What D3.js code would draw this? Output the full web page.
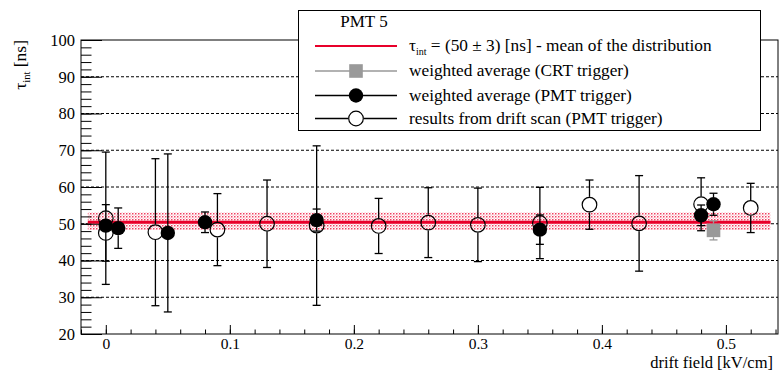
<!DOCTYPE html>
<html>
<head>
<meta charset="utf-8">
<script src="https://cdn.jsdelivr.net/npm/d3@7"></script>
<style>
  body { margin: 0; background: #fff; }
  svg text { font-family: 'Liberation Serif', 'Times New Roman', Times, serif; }
</style>
</head>
<body>
<svg id="chart" width="780" height="372"></svg>
<script>
// results from drift scan (PMT trigger) - open circles
var scanX = [0, 0, 0.04, 0.09, 0.13, 0.17, 0.22, 0.26, 0.30, 0.35, 0.39, 0.43, 0.48, 0.52];
var scanY = [51.5, 47.5, 47.7, 48.4, 50.0, 49.5, 49.4, 50.3, 49.7, 50.2, 55.2, 50.1, 55.3, 54.3];
var scanErr = [18, 7.7, 20, 9.8, 11.9, 21.7, 7.5, 9.5, 10, 9.7, 6.7, 13, 7.2, 6.7];

// weighted average (PMT trigger) - filled circles
var pmtX = [0, 0.01, 0.05, 0.08, 0.17, 0.35, 0.48, 0.49];
var pmtY = [49.5, 48.8, 47.5, 50.4, 51.0, 48.4, 52.3, 55.3];
var pmtErr = [1.5, 5.5, 21.5, 2.8, 3.0, 4.0, 2.8, 3.0];

// weighted average (CRT trigger) - grey square
var crtX = [0.49];
var crtY = [48.2];
var crtErr = [2.6];

// mean of the distribution
var meanVal = 50.4;
var bandLo = 48.3;
var bandHi = 53.1;
var meanRange = [-0.0145, 0.536];

var yMajor = [20, 30, 40, 50, 60, 70, 80, 90, 100];
var xMajor = [0, 0.1, 0.2, 0.3, 0.4, 0.5];

var svg = d3.select('#chart');
var borders = { left: 81, right: 2, top: 40, bottom: 38 };
var svgWidth = 780;
var svgHeight = 372;
var redCol = '#e8002a';
var serif = "'Liberation Serif', 'Times New Roman', Times, serif";

var xScale = d3.scaleLinear()
  .domain([-0.02, 0.542])
  .range([borders.left, svgWidth - borders.right]);

var yScale = d3.scaleLinear()
  .domain([20, 100])
  .range([svgHeight - borders.bottom, borders.top]);

var x0 = xScale.range()[0], x1 = xScale.range()[1];
var y0 = yScale.range()[0], y1 = yScale.range()[1];

// hatch pattern for band
var defs = svg.append('defs');
var pat = defs.append('pattern')
  .attr('id', 'dots')
  .attr('patternUnits', 'userSpaceOnUse')
  .attr('width', 3)
  .attr('height', 3);
pat.append('rect').attr('width', 3).attr('height', 3).attr('fill', '#fff');
pat.append('rect').attr('x', 0).attr('y', 0).attr('width', 1.5).attr('height', 1.5).attr('fill', '#f04060');
pat.append('rect').attr('x', 1.5).attr('y', 1.5).attr('width', 1.5).attr('height', 1.5).attr('fill', '#fbc8d2');

// grid
svg.append('g')
  .selectAll('line')
  .data(yMajor.filter(function (d) { return d > 20 && d < 100; }))
  .enter()
  .append('line')
  .attr('x1', x0)
  .attr('x2', x1)
  .attr('y1', function (d) { return yScale(d); })
  .attr('y2', function (d) { return yScale(d); })
  .attr('stroke', '#000')
  .attr('stroke-width', 1)
  .attr('stroke-dasharray', '3,2');

// band + mean line
svg.append('rect')
  .attr('x', xScale(meanRange[0]))
  .attr('width', xScale(meanRange[1]) - xScale(meanRange[0]))
  .attr('y', yScale(bandHi))
  .attr('height', yScale(bandLo) - yScale(bandHi))
  .attr('fill', 'url(#dots)');

svg.append('line')
  .attr('x1', xScale(meanRange[0]))
  .attr('x2', xScale(meanRange[1]))
  .attr('y1', yScale(meanVal))
  .attr('y2', yScale(meanVal))
  .attr('stroke', redCol)
  .attr('stroke-width', 3);

// axes
var yMinor = d3.range(20, 100.1, 2);
var xMinor = d3.range(-0.02, 0.5421, 0.02);

svg.append('g')
  .attr('transform', 'translate(' + x0 + ',0)')
  .call(d3.axisLeft(yScale).tickValues(yMinor).tickSize(-10.5).tickFormat(''))
  .call(function (g) { g.select('.domain').remove(); });

svg.append('g')
  .attr('class', 'yaxis')
  .attr('transform', 'translate(' + x0 + ',0)')
  .call(d3.axisLeft(yScale).tickValues(yMajor).tickSize(-21).tickPadding(6).tickFormat(d3.format('d')))
  .call(function (g) { g.select('.domain').remove(); });

svg.append('g')
  .attr('transform', 'translate(0,' + y0 + ')')
  .call(d3.axisBottom(xScale).tickValues(xMinor).tickSize(-4.5).tickFormat(''))
  .call(function (g) { g.select('.domain').remove(); });

svg.append('g')
  .attr('class', 'xaxis')
  .attr('transform', 'translate(0,' + y0 + ')')
  .call(d3.axisBottom(xScale).tickValues(xMajor).tickSize(-9)
    .tickFormat(function (d) { return d === 0 ? '0' : d3.format('.1f')(d); }))
  .call(function (g) { g.select('.domain').remove(); });

svg.selectAll('.tick line').attr('stroke', '#000');
svg.selectAll('.yaxis, .xaxis').attr('font-family', serif);
svg.selectAll('.yaxis text')
  .attr('font-size', 16.5)
  .attr('fill', '#000');
svg.selectAll('.xaxis text')
  .attr('font-size', 15.5)
  .attr('dy', null)
  .attr('y', 15)
  .attr('fill', '#000');

// frame
svg.append('rect')
  .attr('x', x0)
  .attr('y', y1)
  .attr('width', x1 - x0)
  .attr('height', y0 - y1)
  .attr('fill', 'none')
  .attr('stroke', '#000')
  .attr('stroke-width', 1);

// axis labels
var yLab = svg.append('text')
  .attr('transform', 'translate(26,' + y1 + ') rotate(-90)')
  .attr('text-anchor', 'end')
  .attr('font-family', serif)
  .attr('font-size', 17.5);
yLab.append('tspan').text('τ');
yLab.append('tspan').attr('dy', 4).attr('font-size', 10.5).text('int');
yLab.append('tspan').attr('dy', -4).text(' [ns]');

svg.append('text')
  .attr('x', 773)
  .attr('y', 368)
  .attr('text-anchor', 'end')
  .attr('font-family', serif)
  .attr('font-size', 16.5)
  .text('drift field [kV/cm]');

// error bars that stop at marker edge
function drawSeries(xs, ys, es, r, color) {
  var g = svg.append('g');
  var pts = xs.map(function (x, i) { return { x: x, y: ys[i], e: es[i] }; });
  pts.forEach(function (d) {
    var cx = xScale(d.x), cy = yScale(d.y);
    var top = yScale(d.y + d.e), bot = yScale(d.y - d.e);
    if (top < cy - r) {
      g.append('line').attr('x1', cx).attr('x2', cx).attr('y1', top).attr('y2', cy - r);
      g.append('line').attr('x1', cx - 4).attr('x2', cx + 4).attr('y1', top).attr('y2', top);
    }
    if (bot > cy + r) {
      g.append('line').attr('x1', cx).attr('x2', cx).attr('y1', cy + r).attr('y2', bot);
      g.append('line').attr('x1', cx - 4).attr('x2', cx + 4).attr('y1', bot).attr('y2', bot);
    }
  });
  g.selectAll('line').attr('stroke', color).attr('stroke-width', 1.3);
  return { g: g, pts: pts };
}

var scan = drawSeries(scanX, scanY, scanErr, 7.8, '#000');
scan.g.selectAll('circle')
  .data(scan.pts)
  .enter()
  .append('circle')
  .attr('cx', function (d) { return xScale(d.x); })
  .attr('cy', function (d) { return yScale(d.y); })
  .attr('r', 7.3)
  .attr('fill', 'none')
  .attr('stroke', '#000')
  .attr('stroke-width', 1.2);

var crt = drawSeries(crtX, crtY, crtErr, 6.8, '#999');
crt.g.selectAll('rect')
  .data(crt.pts)
  .enter()
  .append('rect')
  .attr('x', function (d) { return xScale(d.x) - 6.8; })
  .attr('y', function (d) { return yScale(d.y) - 6.8; })
  .attr('width', 13.6)
  .attr('height', 13.6)
  .attr('fill', '#999');

var pmt = drawSeries(pmtX, pmtY, pmtErr, 7, '#000');
pmt.g.selectAll('circle')
  .data(pmt.pts)
  .enter()
  .append('circle')
  .attr('cx', function (d) { return xScale(d.x); })
  .attr('cy', function (d) { return yScale(d.y); })
  .attr('r', 7.2)
  .attr('fill', '#000');

// legend
var leg = svg.append('g').attr('font-family', serif);
leg.append('rect')
  .attr('x', 298.5)
  .attr('y', 10.5)
  .attr('width', 462)
  .attr('height', 120)
  .attr('fill', '#fff')
  .attr('stroke', '#000');

leg.append('text')
  .attr('x', 364)
  .attr('y', 27)
  .attr('text-anchor', 'middle')
  .attr('font-size', 17)
  .text('PMT 5');

var legY = [46, 71, 95.5, 118.5];
var lx0 = 315, lx1 = 397, lmx = 356, ltx = 409;

leg.append('line').attr('x1', lx0).attr('x2', lx1).attr('y1', legY[0]).attr('y2', legY[0])
  .attr('stroke', redCol).attr('stroke-width', 2);
leg.append('line').attr('x1', lx0).attr('x2', lx1).attr('y1', legY[1]).attr('y2', legY[1])
  .attr('stroke', '#999').attr('stroke-width', 1.3);
leg.append('rect').attr('x', lmx - 6.8).attr('y', legY[1] - 6.8).attr('width', 13.6).attr('height', 13.6)
  .attr('fill', '#999');
leg.append('line').attr('x1', lx0).attr('x2', lx1).attr('y1', legY[2]).attr('y2', legY[2])
  .attr('stroke', '#000').attr('stroke-width', 1.3);
leg.append('circle').attr('cx', lmx).attr('cy', legY[2]).attr('r', 7.2).attr('fill', '#000');
leg.append('line').attr('x1', lx0).attr('x2', lmx - 7.8).attr('y1', legY[3]).attr('y2', legY[3])
  .attr('stroke', '#000').attr('stroke-width', 1.3);
leg.append('line').attr('x1', lmx + 7.8).attr('x2', lx1).attr('y1', legY[3]).attr('y2', legY[3])
  .attr('stroke', '#000').attr('stroke-width', 1.3);
leg.append('circle').attr('cx', lmx).attr('cy', legY[3]).attr('r', 7.3)
  .attr('fill', 'none').attr('stroke', '#000').attr('stroke-width', 1.2);

var t0 = leg.append('text').attr('x', ltx).attr('y', legY[0] + 5).attr('font-size', 17.3);
t0.append('tspan').text('τ');
t0.append('tspan').attr('dy', 4).attr('font-size', 10).text('int');
t0.append('tspan').attr('dy', -4).text(' = (50 ± 3) [ns] - mean of the distribution');

var legText = ['weighted average (CRT trigger)', 'weighted average (PMT trigger)', 'results from drift scan (PMT trigger)'];
legText.forEach(function (t, i) {
  leg.append('text')
    .attr('x', ltx)
    .attr('y', legY[i + 1] + 5)
    .attr('font-size', 17.3)
    .text(t);
});
</script>
</body>
</html>
